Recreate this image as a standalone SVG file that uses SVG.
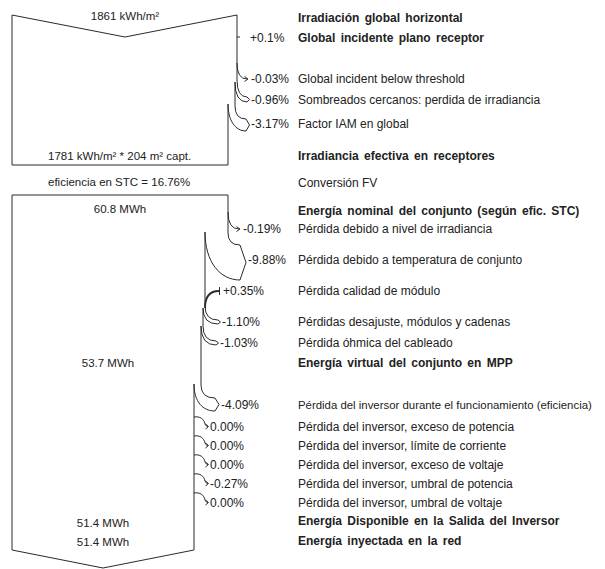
<svg xmlns="http://www.w3.org/2000/svg" width="605" height="569" viewBox="0 0 605 569">
<style>
.ln{fill:none;stroke:#2a2a2a;stroke-width:1}
.gain{fill:none;stroke:#2a2a2a;stroke-width:1.8}
text{font-family:"Liberation Sans",Arial,sans-serif;fill:#222}
.lbl{font-size:12px}
.box{font-size:11.5px}
.b{font-size:12px;font-weight:bold;word-spacing:2px}
.mid{text-anchor:middle}
</style>
<rect width="605" height="569" fill="#fff"/>
<g id="irradiance-box">
<path class="ln" d="M12,165 L12,15 L125,37 L237,15 L237,63"/>
<path class="ln" d="M12,165 H228"/>
<text class="box mid" x="125" y="20">1861 kWh/m²</text>
<text class="box" x="48" y="160">1781 kWh/m² * 204 m² capt.</text>
</g>
<g id="conversion">
<text class="box" x="48" y="186">eficiencia en STC = 16.76%</text>
</g>
<g id="energy-box">
<path class="ln" d="M12,550 V195 H228 V212"/>
<path class="ln" d="M12,550 L103,568 L194,550 V384"/>
<text class="box mid" x="120" y="213">60.8 MWh</text>
<text class="box mid" x="108" y="367">53.7 MWh</text>
<text class="box mid" x="103" y="527">51.4 MWh</text>
<text class="box mid" x="103" y="546">51.4 MWh</text>
</g>
<g id="connectors">
<path class="ln" d="M237,37 H240"/>
<path class="ln" d="M237,63 Q237,79 247,79 M244.5,76.5 L248,79 L244.5,81.5"/>
<path class="ln" d="M237,63 V80 Q237,97 247,97 M235,82 Q235,102 247,102 M247,97 L249.5,99.5 L247,102"/>
<path class="ln" d="M235,82 V106 Q235,119 246,119 M228,104 C228,120 235,131 246,131 M246,119 L249.5,125 L246,131"/>
<path class="ln" d="M228,104 V165"/>
<path class="ln" d="M228,212 Q228,229 239,229 M236.5,226.5 L240,229 L236.5,231.5"/>
<path class="ln" d="M228,212 V233 Q228,245 240,245 M205,232 C205,262 220,280 240,280 M240,245 L246,262.5 L240,280"/>
<path class="ln" d="M205,232 V306"/>
<path class="gain" d="M205,308 Q205,291 219,291"/>
<path class="ln" d="M219.5,287 V295"/>
<path class="ln" d="M205,306 Q205,320 218,320 M203,308 Q203,324 218,324 M218,320 L220.5,322 L218,324"/>
<path class="ln" d="M203,308 V326 Q203,341 216,341 M201,326 Q201,345 216,345 M216,341 L218.5,343 L216,345"/>
<path class="ln" d="M201,326 V385 Q201,398 215,398"/>
<path class="ln" d="M194,384 C194,402 203,411 215,411 M215,398 L219,404.5 L215,411"/>
<path class="ln" d="M194,417 C200,416 204,419 205,424 Q206,426.5 208,426.5 M205.5,424 L208.5,426.5 L205.5,429"/>
<path class="ln" d="M194,436 C200,435 204,438 205,443 Q206,445.5 208,445.5 M205.5,443 L208.5,445.5 L205.5,448"/>
<path class="ln" d="M194,455 C200,454 204,457 205,462 Q206,464.5 208,464.5 M205.5,462 L208.5,464.5 L205.5,467"/>
<path class="ln" d="M194,474 C200,473 204,476 205,481 Q206,483.5 208,483.5 M205.5,481 L208.5,483.5 L205.5,486"/>
<path class="ln" d="M194,493 C200,492 204,495 205,500 Q206,502.5 208,502.5 M205.5,500 L208.5,502.5 L205.5,505"/>
</g>
<g id="percent-labels">
<text class="lbl" x="250" y="42">+0.1%</text>
<text class="lbl" x="251" y="83">-0.03%</text>
<text class="lbl" x="251" y="104">-0.96%</text>
<text class="lbl" x="251" y="128">-3.17%</text>
<text class="lbl" x="243" y="233">-0.19%</text>
<text class="lbl" x="248" y="264">-9.88%</text>
<text class="lbl" x="223" y="295">+0.35%</text>
<text class="lbl" x="222" y="326">-1.10%</text>
<text class="lbl" x="220" y="347">-1.03%</text>
<text class="lbl" x="221" y="409">-4.09%</text>
<text class="lbl" x="210" y="431">0.00%</text>
<text class="lbl" x="210" y="450">0.00%</text>
<text class="lbl" x="210" y="469">0.00%</text>
<text class="lbl" x="210" y="488">-0.27%</text>
<text class="lbl" x="210" y="507">0.00%</text>
</g>
<g id="descriptions">
<text class="b" x="298" y="22">Irradiación global horizontal</text>
<text class="b" x="298" y="42">Global incidente plano receptor</text>
<text class="lbl" x="298" y="83">Global incident below threshold</text>
<text class="lbl" x="298" y="104">Sombreados cercanos: perdida de irradiancia</text>
<text class="lbl" x="298" y="128">Factor IAM en global</text>
<text class="b" x="298" y="160">Irradiancia efectiva en receptores</text>
<text class="lbl" x="298" y="187">Conversión FV</text>
<text class="b" x="298" y="215">Energía nominal del conjunto (según efic. STC)</text>
<text class="lbl" x="298" y="233">Pérdida debido a nivel de irradiancia</text>
<text class="lbl" x="298" y="264">Pérdida debido a temperatura de conjunto</text>
<text class="lbl" x="298" y="295">Pérdida calidad de módulo</text>
<text class="lbl" x="298" y="326">Pérdidas desajuste, módulos y cadenas</text>
<text class="lbl" x="298" y="347">Pérdida óhmica del cableado</text>
<text class="b" x="298" y="367">Energía virtual del conjunto en MPP</text>
<text x="298" y="409" style="font-size:11.4px">Pérdida del inversor durante el funcionamiento (eficiencia)</text>
<text class="lbl" x="298" y="431">Pérdida del inversor, exceso de potencia</text>
<text class="lbl" x="298" y="450">Pérdida del inversor, límite de corriente</text>
<text class="lbl" x="298" y="469">Pérdida del inversor, exceso de voltaje</text>
<text class="lbl" x="298" y="488">Pérdida del inversor, umbral de potencia</text>
<text class="lbl" x="298" y="507">Pérdida del inversor, umbral de voltaje</text>
<text class="b" x="298" y="525">Energía Disponible en la Salida del Inversor</text>
<text class="b" x="298" y="545">Energía inyectada en la red</text>
</g>
</svg>
